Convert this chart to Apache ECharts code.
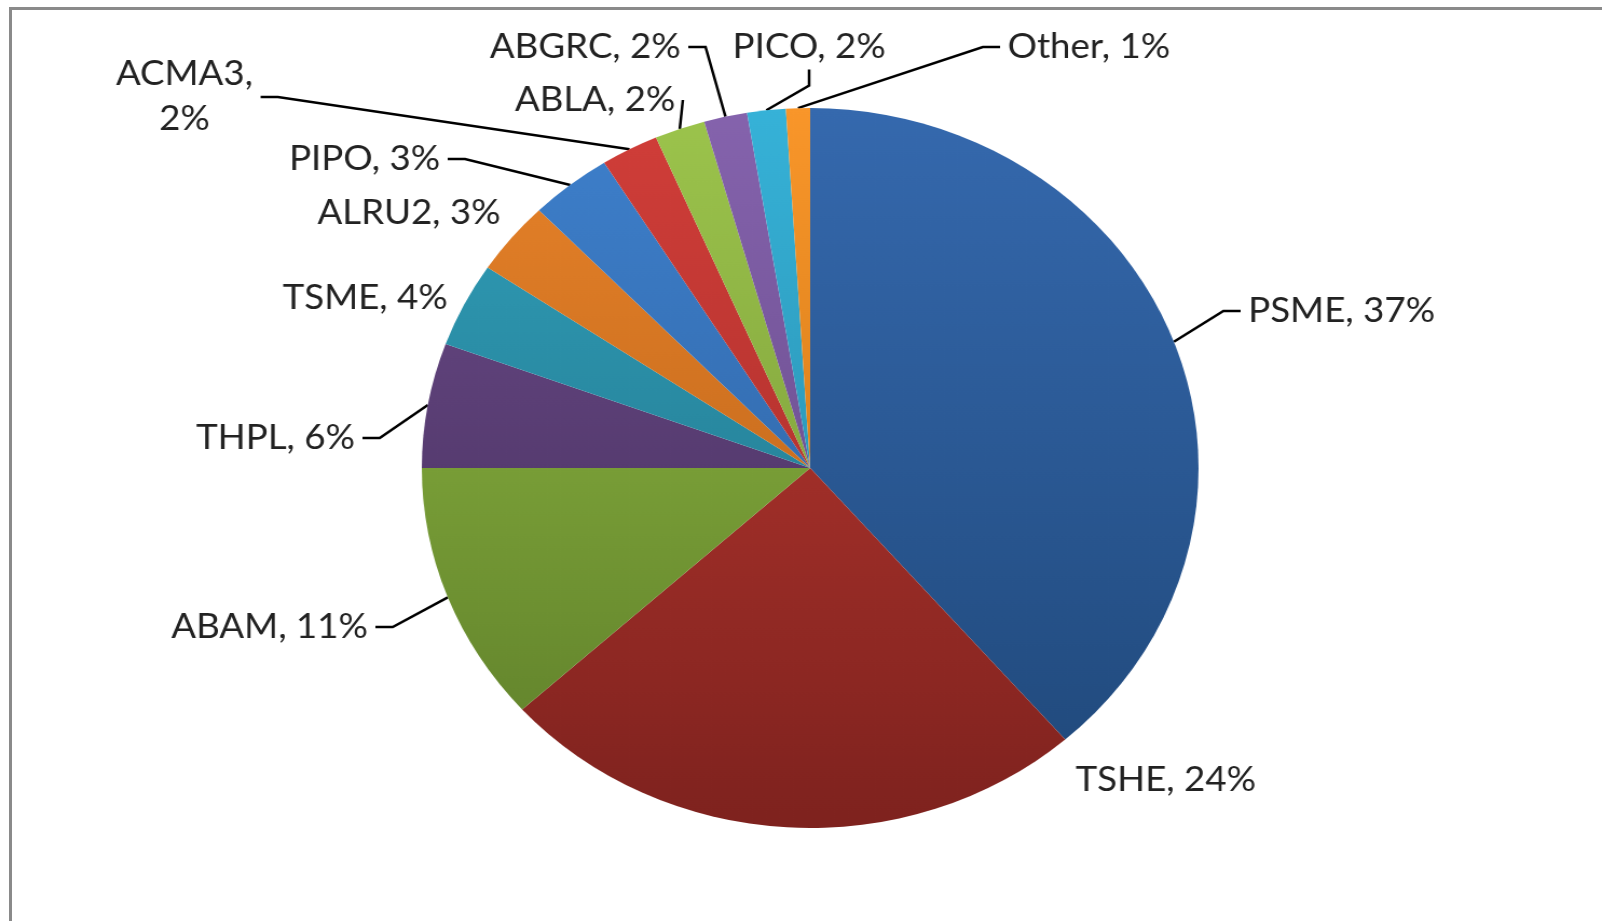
<!DOCTYPE html>
<html><head><meta charset="utf-8">
<script src="https://cdn.jsdelivr.net/npm/echarts@6/dist/echarts.min.js"></script>
<style>
html,body{margin:0;padding:0;background:#fff;overflow:hidden;width:1602px;height:921px;}
#frame{position:absolute;left:9px;top:7px;width:1600px;height:920px;border-top:3px solid #8a8a8a;border-left:3px solid #8a8a8a;}
#chart{position:absolute;left:0;top:0;width:1485px;height:921px;transform:scaleX(1.0788);transform-origin:0 0;}
</style></head><body>
<div id="frame"></div>
<div id="chart"></div>
<script>
// Data
const categories = ['PSME','TSHE','ABAM','THPL','TSME','ALRU2','PIPO','ACMA3','ABLA','ABGRC','PICO','Other'];
const shares = [38.6, 24.7, 11.7, 5.6, 3.8, 3.3, 3.4, 2.4, 2.1, 1.8, 1.6, 1.0];
const percentLabels = ['37%','24%','11%','6%','4%','3%','3%','2%','2%','2%','2%','1%'];

// Styles / layout (kept separate from data)
const lightColors = ['#3569AE','#C23B33','#94BE44','#6E4D8C','#31A0BB','#E8832A','#3E80CC','#D13E39','#9CC44C','#8563AD','#36B2D8','#F9962A'];
const darkColors  = ['#1F4778','#7E221E','#5C7C29','#3F2A55','#1E6C80','#B05C15','#2B5C98','#9E2A27','#719034','#5E437F','#25829F','#C06E10'];
const labelBreak = [false,false,false,false,false,false,false,true,false,false,false,false];
const hideLine = [false,true,false,false,true,true,false,false,false,false,false,false];
// label anchor positions in chart space: [x, y, align]
const labelPos = [
  [1150, 311, 'left'],
  [990, 780, 'left'],
  [348, 627, 'right'],
  [336, 438, 'right'],
  [422, 298, 'right'],
  [471, 213, 'right'],
  [415, 159, 'right'],
  [171, 97, 'center'],
  [633, 100, 'right'],
  [638, 47, 'right'],
  [750, 47, 'center'],
  [927, 47, 'left']
];

const chart = echarts.init(document.getElementById('chart'), null, {renderer:'canvas'});
const data = categories.map((c, i) => ({
  name: c,
  value: shares[i],
  label: { formatter: c + ',' + (labelBreak[i] ? '\n' : ' ') + percentLabels[i] },
  labelLine: { show: !hideLine[i] },
  itemStyle: {
    color: new echarts.graphic.LinearGradient(0, 108, 0, 828, [
      {offset: 0, color: lightColors[i]},
      {offset: 1, color: darkColors[i]}
    ], true)
  }
}));

chart.setOption({
  animation: false,
  backgroundColor: 'transparent',
  series: [{
    type: 'pie',
    center: [751, 468],
    radius: [0, 360],
    startAngle: 90,
    clockwise: true,
    avoidLabelOverlap: false,
    silent: true,
    data: data,
    itemStyle: { borderWidth: 0 },
    label: {
      show: true,
      color: '#222',
      fontFamily: 'Lato',
      fontSize: 34,
      lineHeight: 45,
      padding: [0, 7]
    },
    labelLine: {
      show: true,
      length: 20,
      length2: 16,
      smooth: false,
      lineStyle: { color: '#000', width: 2.5 }
    },
    labelLayout: function (params) {
      const p = labelPos[params.dataIndex];
      return { x: p[0], y: p[1], align: p[2], verticalAlign: 'middle' };
    }
  }]
});
</script>
</body></html>
